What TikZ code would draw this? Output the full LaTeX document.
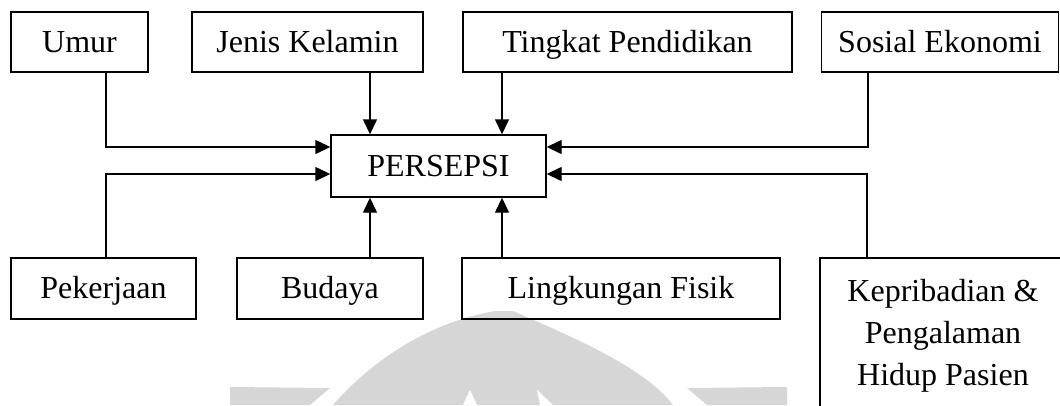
\documentclass[tikz,border=0pt]{standalone}
\usepackage{fontspec}
\setmainfont{Liberation Serif}
\usetikzlibrary{arrows.meta}

\tikzset{
  boxbase/.style={draw, line width=1.4pt, inner sep=0pt, anchor=center,
    font=\fontsize{32}{42}\selectfont},
  box/.style={boxbase, text height=24pt, text depth=4pt},
  link/.style={line width=1.4pt},
  arr/.style={link, -{Triangle[length=15pt,width=14pt]}},
  emblem/.style={fill=black!16, draw=none},
  emblemcut/.style={fill=white, draw=none}
}

\begin{document}
\begin{tikzpicture}[x=1pt, y=-1pt]
\useasboundingbox (0,0) rectangle (1060,405);
\clip (0,0) rectangle (1060,405);

% faint emblem behind the lower row
\fill[emblem] (333,405) .. controls (372,360) and (430,322) .. (495,311)
  -- (513,311) .. controls (575,338) and (645,368) .. (673,405) -- cycle;
\fill[emblemcut] (470,390) -- (463,405) -- (477,405) -- cycle;
\fill[emblemcut] (537,390) -- (540,405) -- (553,405) -- cycle;
\fill[emblem] (230,387) -- (330,388) -- (310,405) -- (230,405) -- cycle;
\fill[emblem] (687,388) -- (787,387) -- (787,405) -- (707,405) -- cycle;

% upper row
\node[box, minimum width=137pt, minimum height=60pt] (umur)    at (79.5,42)  {Umur};
\node[box, minimum width=231pt, minimum height=60pt] (jenis)   at (307.5,42) {Jenis Kelamin};
\node[box, minimum width=329pt, minimum height=60pt] (tingkat) at (627.5,42) {Tingkat Pendidikan};
\node[box, minimum width=237pt, minimum height=60pt] (sosial)  at (940,42)   {Sosial Ekonomi};

% centre
\node[box, minimum width=215pt, minimum height=62pt] (persepsi) at (438.5,166) {PERSEPSI};

% lower row
\node[box, minimum width=185pt, minimum height=61pt] (pekerjaan)  at (103.5,288.5) {Pekerjaan};
\node[box, minimum width=186pt, minimum height=61pt] (budaya)     at (330,288.5)   {Budaya};
\node[box, minimum width=318pt, minimum height=61pt] (lingkungan) at (621,288.5)   {Lingkungan Fisik};
\node[boxbase, minimum width=246pt, minimum height=156pt, align=center] (kepri) at (943,336)
  {Kepribadian \&\\Pengalaman\\Hidup Pasien};

% entry points on the centre box
\coordinate (pA) at ([xshift=-68.5pt]persepsi.north);
\coordinate (pB) at ([xshift=63.5pt]persepsi.north);
\coordinate (pC) at ([xshift=-68.5pt]persepsi.south);
\coordinate (pD) at ([xshift=63.5pt]persepsi.south);

% connectors
\draw[arr] ([xshift=26.5pt]umur.south) |- ([yshift=19pt]persepsi.west);
\draw[arr] ([xshift=2.5pt]pekerjaan.north) |- ([yshift=-8pt]persepsi.west);
\draw[arr] (jenis.south -| pA) -- (pA);
\draw[arr] (tingkat.south -| pB) -- (pB);
\draw[arr] (budaya.north -| pC) -- (pC);
\draw[arr] (lingkungan.north -| pD) -- (pD);
\draw[arr] ([xshift=-72pt]sosial.south) |- ([yshift=19pt]persepsi.east);
\draw[arr] ([xshift=-76pt]kepri.north) |- ([yshift=-8pt]persepsi.east);
\end{tikzpicture}
\end{document}
